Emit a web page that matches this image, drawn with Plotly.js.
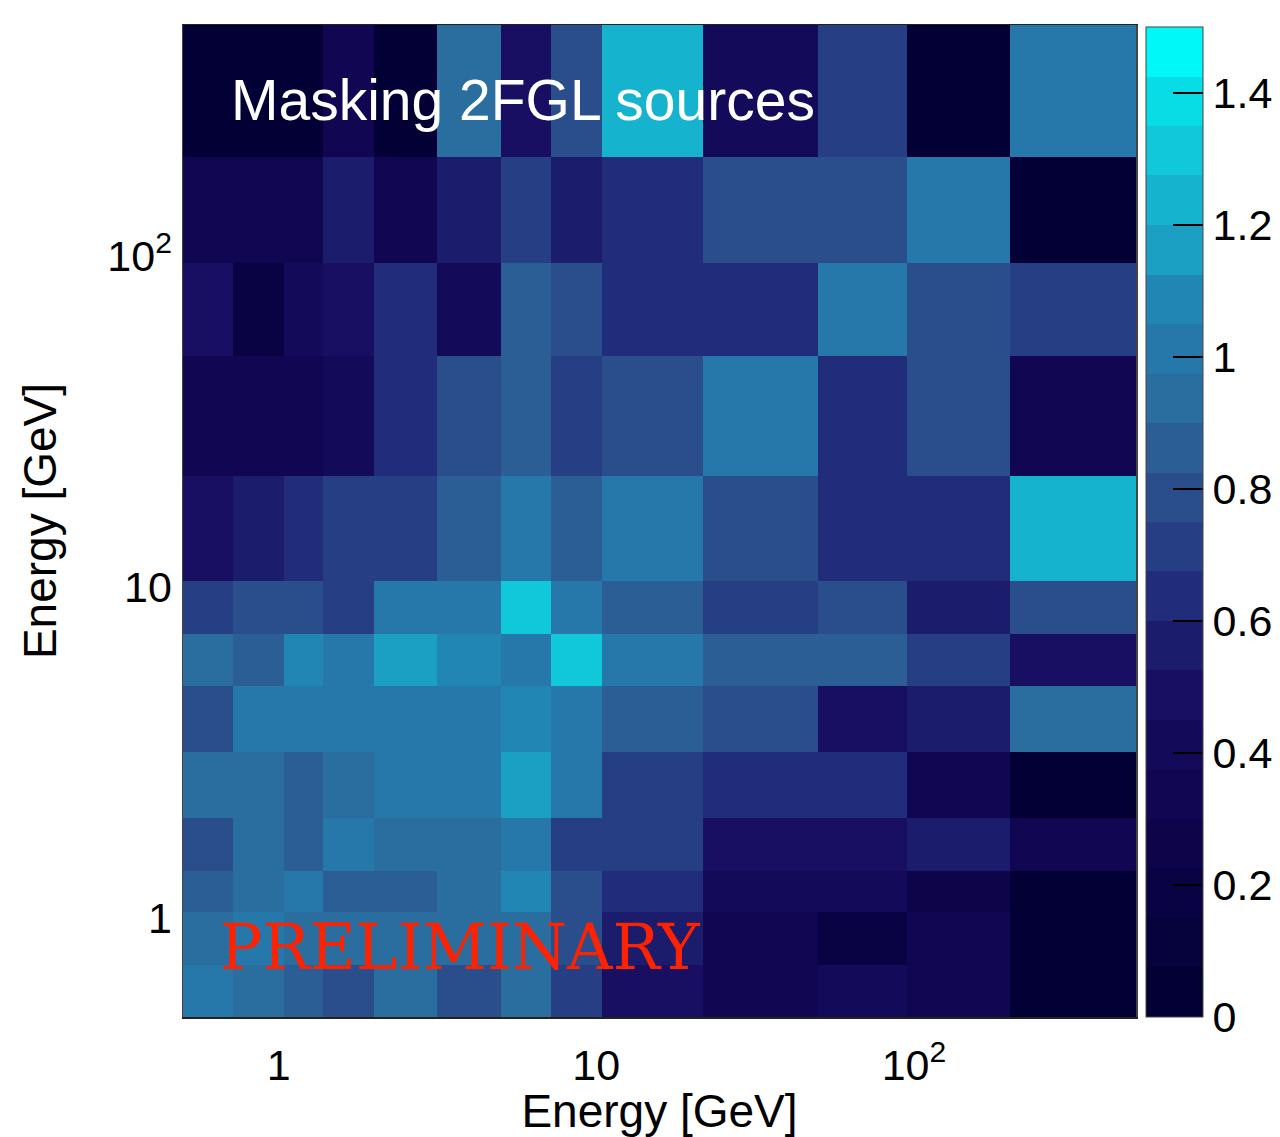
<!DOCTYPE html>
<html>
<head>
<meta charset="utf-8">
<script src="https://cdn.plot.ly/plotly-3.0.1.min.js"></script>
<style>
  html, body { margin: 0; padding: 0; background: #ffffff; }
  #chart { width: 1280px; height: 1137px; }
</style>
</head>
<body>
<div id="chart"></div>
<script>
// Energy bin edges [GeV], shared by both axes
const binEdges = [0.5, 0.72, 1.04, 1.38, 2.0, 3.16, 5.0, 7.2, 10.4, 21.7, 50, 95, 200, 500];

// Cell values, one row per y bin, from lowest energy (bottom) to highest (top)
const row01 = [1.04, 0.94, 0.86, 0.79, 0.94, 0.79, 0.94, 0.71, 0.47, 0.32, 0.38, 0.34, 0.03];
const row02 = [0.94, 1.02, 0.94, 0.94, 0.94, 0.94, 0.92, 0.80, 0.56, 0.32, 0.16, 0.32, 0.03];
const row03 = [0.87, 0.94, 1.02, 0.87, 0.87, 0.94, 1.10, 0.79, 0.63, 0.38, 0.38, 0.28, 0.03];
const row04 = [0.79, 0.94, 0.87, 1.04, 0.94, 0.94, 1.02, 0.71, 0.71, 0.47, 0.47, 0.56, 0.34];
const row05 = [0.94, 0.94, 0.87, 0.94, 1.04, 1.04, 1.16, 1.04, 0.71, 0.64, 0.64, 0.32, 0.03];
const row06 = [0.79, 1.02, 1.02, 1.02, 1.04, 1.04, 1.10, 1.04, 0.87, 0.79, 0.47, 0.56, 0.94];
const row07 = [0.94, 0.87, 1.10, 1.02, 1.16, 1.10, 1.02, 1.31, 1.04, 0.87, 0.87, 0.71, 0.47];
const row08 = [0.71, 0.79, 0.79, 0.71, 1.04, 1.04, 1.31, 1.04, 0.87, 0.71, 0.79, 0.56, 0.79];
const row09 = [0.47, 0.56, 0.62, 0.71, 0.71, 0.87, 1.04, 0.87, 1.04, 0.79, 0.63, 0.63, 1.24];
const row10 = [0.32, 0.32, 0.36, 0.42, 0.63, 0.79, 0.87, 0.71, 0.79, 1.04, 0.63, 0.79, 0.34];
const row11 = [0.47, 0.16, 0.40, 0.47, 0.63, 0.42, 0.87, 0.79, 0.63, 0.63, 1.04, 0.79, 0.72];
const row12 = [0.32, 0.32, 0.32, 0.56, 0.31, 0.55, 0.71, 0.56, 0.64, 0.79, 0.79, 1.04, 0.03];
const row13 = [0.04, 0.04, 0.04, 0.36, 0.04, 0.94, 0.47, 0.79, 1.24, 0.38, 0.71, 0.03, 1.04];

// Colour bands of the palette (bottom to top), z range and colourbar ticks
const bandColors = ['#020034','#06023b','#0a0343','#0d044a','#110652','#140a5a','#180e62','#1c1c6c',
                    '#212d7a','#263e84','#2a4e8c','#2c5e96','#2a6ea0','#2678aa','#2286b4','#1b9fc2',
                    '#16b3cf','#10c8da','#08dde5','#00f8f8'];
const zMin = 0, zMax = 1.5;
const cbTickVals = [0, 0.2, 0.4, 0.6, 0.8, 1.0, 1.2, 1.4];
const cbTickText = ['0', '0.2', '0.4', '0.6', '0.8', '1', '1.2', '1.4'];
const axisTickVals = [1, 10, 100];
const axisTickText = ['1', '10', '10<sup>2</sup>'];

const zRows = [row01, row02, row03, row04, row05, row06, row07, row08, row09, row10, row11, row12, row13];

const colorscale = [];
bandColors.forEach((c, i) => {
  colorscale.push([i / bandColors.length, c]);
  colorscale.push([(i + 1) / bandColors.length, c]);
});

const FONT = '"Liberation Sans", Arial, Helvetica, sans-serif';

const trace = {
  type: 'heatmap',
  x: binEdges,
  y: binEdges,
  z: zRows,
  zmin: zMin,
  zmax: zMax,
  colorscale: colorscale,
  zsmooth: false,
  hoverinfo: 'skip',
  colorbar: {
    x: 1.0105, xanchor: 'left', xpad: 0,
    y: 0, yanchor: 'bottom', ypad: 0,
    len: 0.998, lenmode: 'fraction',
    thickness: 57, thicknessmode: 'pixels',
    outlinewidth: 1, outlinecolor: '#444',
    ticks: 'inside', ticklen: 30, tickwidth: 2, tickcolor: '#000',
    tickvals: cbTickVals, ticktext: cbTickText,
    tickfont: { family: FONT, size: 43, color: '#000' }
  }
};

const lr = [Math.log10(binEdges[0]), Math.log10(binEdges[binEdges.length - 1])];

const layout = {
  width: 1280, height: 1137,
  margin: { l: 183, r: 144, t: 25, b: 120, autoexpand: false },
  paper_bgcolor: '#ffffff', plot_bgcolor: '#ffffff',
  showlegend: false,
  xaxis: {
    type: 'log', range: lr, autorange: false,
    tickvals: axisTickVals, ticktext: axisTickText,
    ticks: '', showgrid: false, zeroline: false,
    showline: true, mirror: true, linecolor: '#222', linewidth: 1.5,
    tickfont: { family: FONT, size: 43, color: '#000' },
    ticklabelstandoff: 10,
    title: { text: 'Energy [GeV]', font: { family: FONT, size: 46, color: '#000' }, standoff: 0 }
  },
  yaxis: {
    type: 'log', range: lr, autorange: false,
    tickvals: axisTickVals, ticktext: axisTickText,
    ticks: '', showgrid: false, zeroline: false,
    showline: true, mirror: true, linecolor: '#444', linewidth: 1.5,
    tickfont: { family: FONT, size: 43, color: '#000' },
    ticklabelstandoff: 1,
    title: { text: 'Energy [GeV]', font: { family: FONT, size: 46, color: '#000' }, standoff: 36 }
  },
  annotations: [
    {
      text: 'Masking 2FGL sources', xref: 'paper', yref: 'paper',
      x: 0.0483, y: 0.924, xanchor: 'left', yanchor: 'middle', showarrow: false,
      font: { family: FONT, size: 57, color: '#ffffff' }
    },
    {
      text: 'PRELIMINARY', xref: 'paper', yref: 'paper',
      x: 0.0367, y: 0.070, xanchor: 'left', yanchor: 'middle', showarrow: false,
      font: { family: '"DejaVu Serif", "Liberation Serif", serif', size: 63, color: '#ff2200' }
    }
  ]
};

Plotly.newPlot('chart', [trace], layout, { displayModeBar: false, staticPlot: true });
</script>
</body>
</html>
